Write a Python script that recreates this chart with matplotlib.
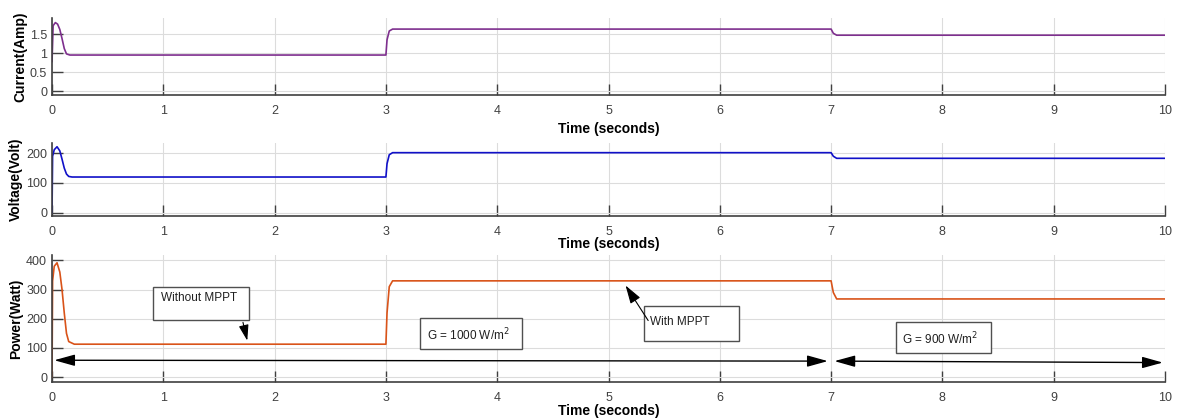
"""
PV system response with / without MPPT: current, voltage and power vs time
"""
import matplotlib.pyplot as plt
from matplotlib.patches import Rectangle

plt.rcParams['font.family'] = ['Liberation Sans', 'DejaVu Sans']

# breakpoints (time in seconds)
t_current = [0, 0.01, 0.03, 0.05, 0.07, 0.09, 0.11, 0.13, 0.16, 3.0, 3.01, 3.03, 3.06, 7.0, 7.02, 7.05, 10]
current = [0.78, 1.72, 1.8, 1.76, 1.62, 1.38, 1.12, 0.98, 0.95, 0.95, 1.35, 1.58, 1.63, 1.63, 1.52, 1.47, 1.47]

t_voltage = [0, 0.005, 0.02, 0.045, 0.07, 0.09, 0.11, 0.13, 0.15, 0.18, 3.0, 3.01, 3.03, 3.06, 7.0, 7.02, 7.05, 10]
voltage = [0, 190, 212, 222, 208, 180, 150, 130, 122, 120, 120, 165, 195, 202, 202, 190, 183, 183]

t_power = [0, 0.005, 0.02, 0.045, 0.07, 0.09, 0.11, 0.13, 0.15, 0.2, 3.0, 3.01, 3.03, 3.06, 7.0, 7.02, 7.05, 10]
power = [0, 330, 380, 392, 360, 300, 220, 150, 122, 113, 113, 220, 310, 330, 330, 290, 268, 268]

x_ticks = list(range(0, 11))

colors = {"current": "#7E2F8E", "voltage": "#1010C8", "power": "#D95319"}

fig = plt.figure(figsize=(11.77, 4.19), dpi=100)

# axes rectangles [left, bottom, width, height] in figure fractions
left, width = 0.0442, 0.9456
ax1 = fig.add_axes([left, 0.773, width, 0.184])
ax2 = fig.add_axes([left, 0.484, width, 0.175])
ax3 = fig.add_axes([left, 0.088, width, 0.303])


def style_axis(ax, ylabel, yticks, ylim):
    ax.set_xlim(0, 10)
    ax.set_ylim(*ylim)
    ax.set_xticks(x_ticks)
    ax.set_yticks(yticks)
    ax.grid(True, color="#dcdcdc", linewidth=0.8)
    ax.set_axisbelow(True)
    for side in ("top", "right"):
        ax.spines[side].set_visible(False)
    for side in ("left", "bottom"):
        ax.spines[side].set_color("#404040")
        ax.spines[side].set_linewidth(1.2)
    ax.tick_params(direction="in", length=8, width=1, colors="#404040",
                   labelsize=9, labelcolor="#404040")
    ax.tick_params(axis="x", pad=7)
    ax.set_ylabel(ylabel, fontsize=10, fontweight="bold", labelpad=2)


ax1.plot(t_current, current, color=colors["current"], linewidth=1.2)
style_axis(ax1, "Current(Amp)", [0, 0.5, 1, 1.5], (-0.1, 1.92))
ax1.set_yticklabels(["0", "0.5", "1", "1.5"])
ax1.set_xlabel("Time (seconds)", fontsize=10, fontweight="bold", labelpad=4)

ax2.plot(t_voltage, voltage, color=colors["voltage"], linewidth=1.2)
style_axis(ax2, "Voltage(Volt)", [0, 100, 200], (-12, 235))
ax2.set_xlabel("Time (seconds)", fontsize=10, fontweight="bold", labelpad=-1)

ax3.plot(t_power, power, color=colors["power"], linewidth=1.2)
style_axis(ax3, "Power(Watt)", [0, 100, 200, 300, 400], (-17, 418))
ax3.set_xlabel("Time (seconds)", fontsize=10, fontweight="bold", labelpad=0)

# irradiance spans
arrow = dict(arrowstyle="<|-|>,head_length=0.9,head_width=0.25", color="black",
             lw=1.0, mutation_scale=14, shrinkA=0, shrinkB=0)
ax3.annotate("", xy=(0.02, 58), xytext=(6.97, 55), arrowprops=arrow)
ax3.annotate("", xy=(7.03, 55), xytext=(9.98, 50), arrowprops=arrow)


def text_box(ax, x0, x1, y0, y1, label, tx, ty):
    ax.add_patch(Rectangle((x0, y0), x1 - x0, y1 - y0, fill=True,
                           facecolor="white", edgecolor="#505050", lw=1.0, zorder=3))
    ax.text(tx, ty, label, fontsize=8.5, color="#202020", va="center", ha="left", zorder=4)


text_box(ax3, 0.91, 1.77, 197, 310, "Without MPPT", 0.98, 272)
ax3.annotate("", xy=(1.76, 116), xytext=(1.71, 197),
             arrowprops=dict(arrowstyle="-|>,head_length=0.8,head_width=0.25",
                             color="black", lw=0.8, mutation_scale=12))

text_box(ax3, 5.32, 6.17, 124, 245, "With MPPT", 5.37, 188)
ax3.annotate("", xy=(5.14, 322), xytext=(5.37, 186),
             arrowprops=dict(arrowstyle="-|>,head_length=0.8,head_width=0.25",
                             color="black", lw=0.8, mutation_scale=14))

text_box(ax3, 3.31, 4.22, 97, 203, "G = 1000 W/m$^2$", 3.37, 145)
text_box(ax3, 7.58, 8.44, 83, 190, "G = 900 W/m$^2$", 7.64, 132)

fig.savefig("out.png", dpi=100)
